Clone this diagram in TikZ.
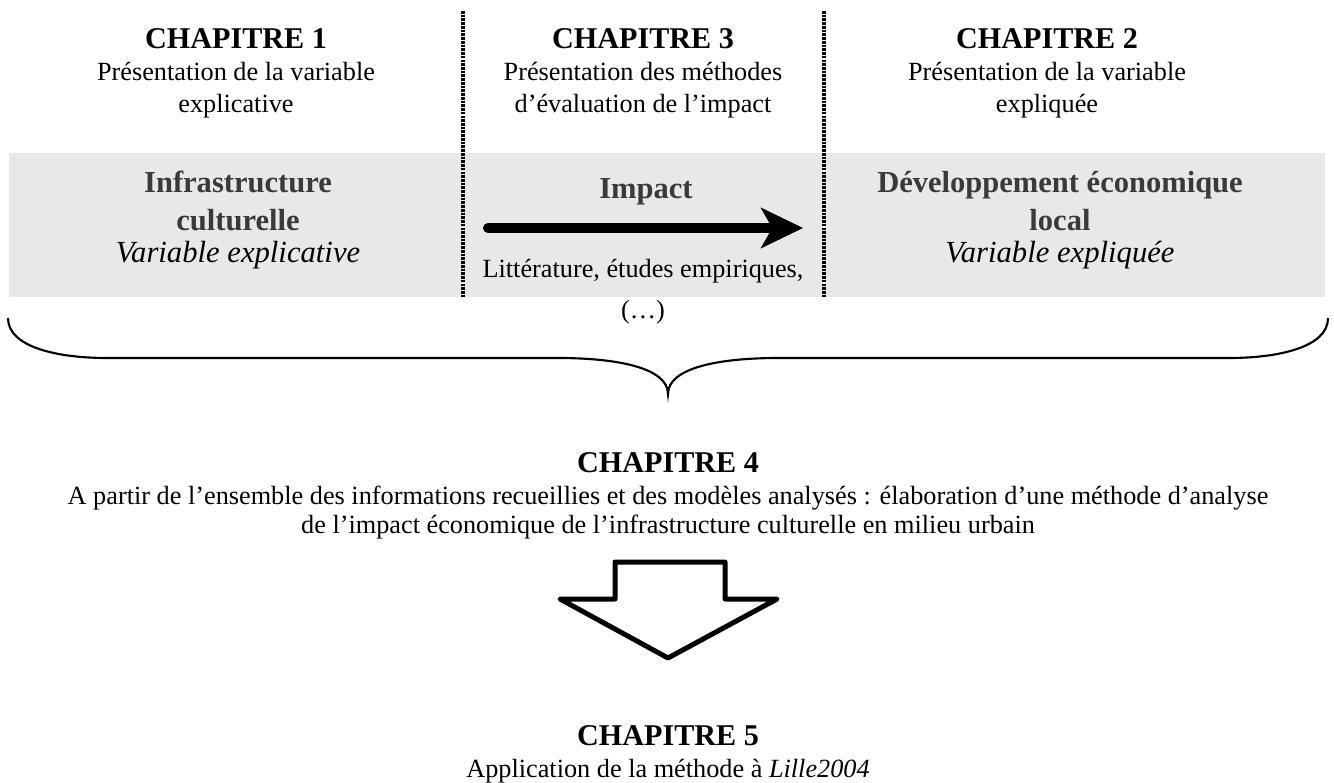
\documentclass[tikz,border=0pt]{standalone}
\usepackage{fontspec}
\setmainfont{Liberation Serif}
\usetikzlibrary{arrows.meta}
\definecolor{bandgray}{RGB}{232,232,232}
\definecolor{labelgray}{RGB}{58,58,58}

\begin{document}
\begin{tikzpicture}[x=0.75pt,y=-0.75pt,
  head/.style={font=\fontsize{22.6pt}{26pt}\selectfont\bfseries, anchor=base, inner sep=0pt},
  body/.style={font=\fontsize{19.7pt}{24pt}\selectfont, anchor=base, inner sep=0pt},
  varname/.style={font=\fontsize{22.9pt}{26pt}\selectfont\bfseries, text=labelgray, anchor=base, inner sep=0pt},
  varrole/.style={font=\fontsize{23pt}{26pt}\selectfont\itshape, anchor=base, inner sep=0pt},
  divider/.style={line width=2.3pt, dash pattern=on 2pt off 0.8pt},
]
\useasboundingbox (0,0) rectangle (1334,782);

% grey band holding the three variables
\fill[bandgray] (9,153) rectangle (1325,297);

% column dividers
\draw[divider] (463,11) -- (463,298);
\draw[divider] (824,11) -- (824,298);

% column headers
\node[head] (c1h) at (236,48) {CHAPITRE 1};
\node[body] (c1a) at (236,80) {Présentation de la variable};
\node[body] (c1b) at (236,112) {explicative};

\node[head] (c3h) at (643,48) {CHAPITRE 3};
\node[body] (c3a) at (643,80) {Présentation des méthodes};
\node[body] (c3b) at (643,112) {d’évaluation de l’impact};

\node[head] (c2h) at (1047,48) {CHAPITRE 2};
\node[body] (c2a) at (1047,80) {Présentation de la variable};
\node[body] (c2b) at (1047,112) {expliquée};

% variables
\node[varname] (v1a) at (238,192) {Infrastructure};
\node[varname] (v1b) at (238,230) {culturelle};
\node[varrole] (v1c) at (238,262) {Variable explicative};

\node[varname] (v2a) at (1060,192) {Développement économique};
\node[varname] (v2b) at (1060,230) {local};
\node[varrole] (v2c) at (1060,262) {Variable expliquée};

% impact
\node[varname] (imp) at (646,198) {Impact};
\coordinate (impfrom) at (488,228);
\coordinate (impto) at (803,228);
\draw[line width=7.5pt, line cap=round,
      -{Stealth[length=32pt, width=31pt, inset=9pt, line width=0pt]}]
  (impfrom) -- (impto);
\node[body] (lit1) at (643,277) {Littérature, études empiriques,};
\node[body] (lit2) at (643,318) {(…)};

% brace gathering the three chapters
\draw[line width=1.6pt]
  (8,318) .. controls (8,348) and (60,358) .. (107,358)
  -- (558,358) .. controls (618,358) and (668,368) .. (668,394)
  .. controls (668,368) and (718,358) .. (778,358)
  -- (1229,358) .. controls (1276,358) and (1328,348) .. (1328,318);

% chapter 4
\node[head] (c4h) at (668,472) {CHAPITRE 4};
\node[body] (c4a) at (668,504) {A partir de l’ensemble des informations recueillies et des modèles analysés : élaboration d’une méthode d’analyse};
\node[body] (c4b) at (668,533) {de l’impact économique de l’infrastructure culturelle en milieu urbain};

% hollow block arrow
\draw[line width=3.75pt, line join=round]
  (615,562) -- (725,562) -- (725,599) -- (777,599) -- (668,658)
  -- (560,599) -- (615,599) -- cycle;

% chapter 5
\node[head] (c5h) at (668,745) {CHAPITRE 5};
\node[body] (c5a) at (668,777) {Application de la méthode à \textit{Lille2004}};
\end{tikzpicture}
\end{document}
